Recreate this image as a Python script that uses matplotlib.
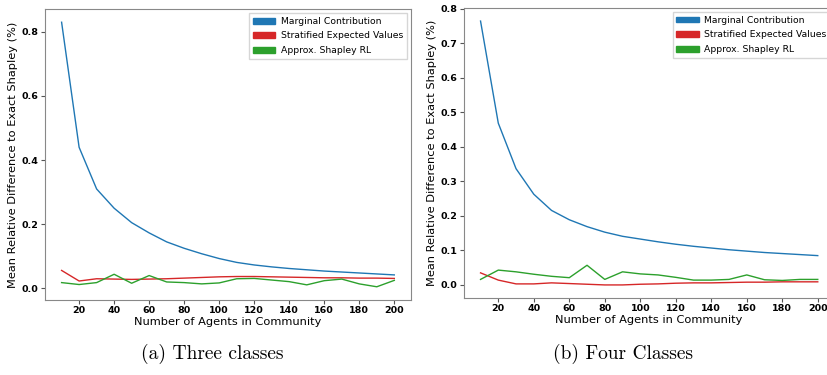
import matplotlib
matplotlib.use("Agg")
import matplotlib.pyplot as plt
import matplotlib.patches as mpatches

# agents in community
agents = [10, 20, 30, 40, 50, 60, 70, 80, 90, 100,
          110, 120, 130, 140, 150, 160, 170, 180, 190, 200]

# (a) three classes
three_marginal = [0.83, 0.44, 0.31, 0.25, 0.205, 0.173, 0.145, 0.125, 0.108, 0.093,
                  0.081, 0.073, 0.067, 0.062, 0.058, 0.054, 0.051, 0.048, 0.045, 0.042]
three_stratified = [0.056, 0.023, 0.030, 0.029, 0.028, 0.029, 0.030, 0.032, 0.034, 0.036,
                    0.037, 0.037, 0.036, 0.035, 0.034, 0.033, 0.033, 0.032, 0.032, 0.031]
three_rl = [0.018, 0.012, 0.018, 0.044, 0.016, 0.040, 0.020, 0.018, 0.014, 0.017,
            0.030, 0.031, 0.026, 0.021, 0.011, 0.024, 0.029, 0.014, 0.005, 0.025]

# (b) four classes
four_marginal = [0.765, 0.469, 0.337, 0.263, 0.216, 0.189, 0.169, 0.153, 0.141, 0.133,
                 0.125, 0.118, 0.112, 0.107, 0.102, 0.098, 0.094, 0.091, 0.088, 0.085]
four_stratified = [0.035, 0.014, 0.003, 0.003, 0.006, 0.004, 0.002, 0.0, 0.0, 0.002,
                   0.003, 0.005, 0.006, 0.006, 0.007, 0.008, 0.008, 0.009, 0.009, 0.009]
four_rl = [0.016, 0.043, 0.038, 0.031, 0.025, 0.021, 0.057, 0.016, 0.038, 0.032,
           0.029, 0.022, 0.014, 0.014, 0.016, 0.029, 0.015, 0.013, 0.016, 0.016]

labels = ['Marginal Contribution', 'Stratified Expected Values', 'Approx. Shapley RL']
colors = ['tab:blue', 'tab:red', 'tab:green']
captions = ['(a) Three classes', '(b) Four Classes']

fig = plt.figure(figsize=(8.28, 3.75), dpi=100)
ax1 = fig.add_axes([0.0543, 0.20, 0.442, 0.776])
ax2 = fig.add_axes([0.560, 0.205, 0.448, 0.774])

panels = [
    (ax1, [three_marginal, three_stratified, three_rl], [0, 0.2, 0.4, 0.6, 0.8]),
    (ax2, [four_marginal, four_stratified, four_rl], [0, 0.1, 0.2, 0.3, 0.4, 0.5, 0.6, 0.7, 0.8]),
]

for ax, series, yticks in panels:
    for vals, c in zip(series, colors):
        ax.plot(agents, vals, color=c, linewidth=1)
    ax.set_xticks(range(20, 201, 20))
    ax.set_yticks(yticks)
    ax.tick_params(labelsize=6.8, length=3, pad=1.5, color='#555555')
    for lbl in ax.get_xticklabels() + ax.get_yticklabels():
        lbl.set_fontweight('bold')
    for sp in ax.spines.values():
        sp.set_color('#888888')
    ax.set_xlabel('Number of Agents in Community', fontsize=8.2, labelpad=1)
    ax.set_ylabel('Mean Relative Difference to Exact Shapley (%)', fontsize=8.2, labelpad=2.5)
    handles = [mpatches.Patch(color=c, label=l) for c, l in zip(colors, labels)]
    ax.legend(handles=handles, loc='upper right', fontsize=6.7, handlelength=2.4,
              handleheight=0.6, handletextpad=0.6, borderaxespad=0.45,
              fancybox=False, labelspacing=0.6)

fig.text(0.256, 0.055, captions[0], fontsize=14, family='cmr10', ha='center', va='center')
fig.text(0.752, 0.055, captions[1], fontsize=14, family='cmr10', ha='center', va='center')

fig.savefig('out.png', dpi=100)
